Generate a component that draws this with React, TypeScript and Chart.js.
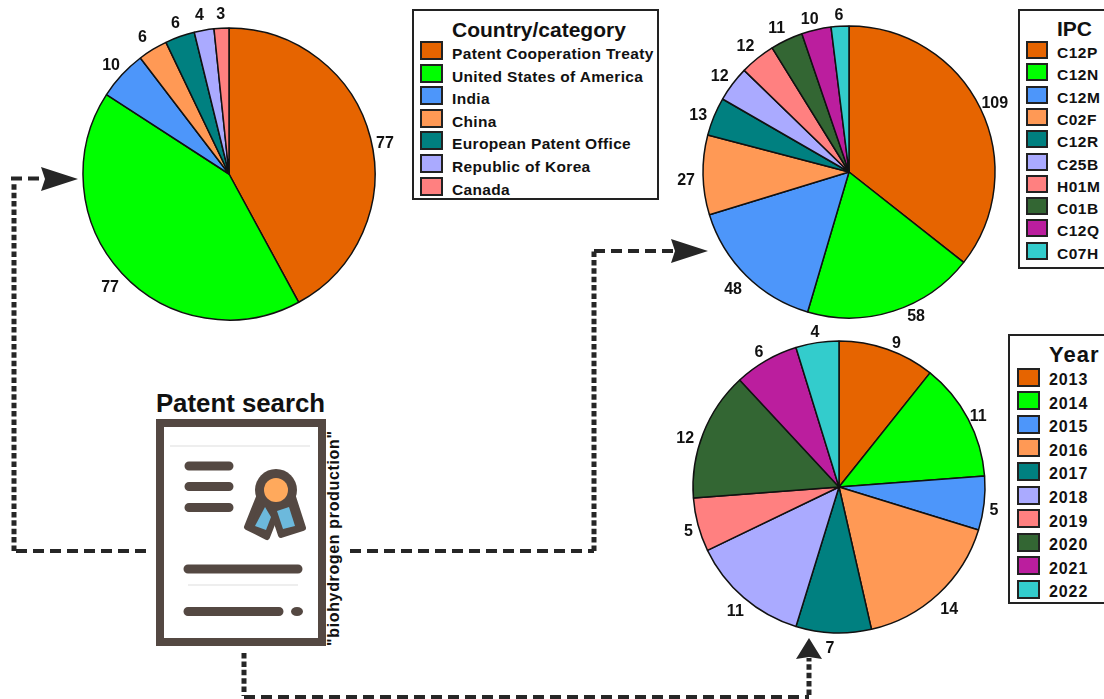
import React, { useEffect, useRef } from "react";
import { Chart, registerables } from "chart.js";

Chart.register(...registerables);

const countryLabels = ["Patent Cooperation Treaty", "United States of America", "India", "China", "European Patent Office", "Republic of Korea", "Canada"];
const countryValues = [77, 77, 10, 6, 6, 4, 3];
const ipcLabels = ["C12P", "C12N", "C12M", "C02F", "C12R", "C25B", "H01M", "C01B", "C12Q", "C07H"];
const ipcValues = [109, 58, 48, 27, 13, 12, 12, 11, 10, 6];
const yearLabels = ["2013", "2014", "2015", "2016", "2017", "2018", "2019", "2020", "2021", "2022"];
const yearValues = [9, 11, 5, 14, 7, 11, 5, 12, 6, 4];
const palette = ["#E66400", "#00FF00", "#4D96FA", "#FF9955", "#008080", "#AAAAFF", "#FF8080", "#336633", "#BB1E9E", "#33CCCC"];

const FONT = '"Liberation Sans", Arial, sans-serif';
const SIZE = 360;

// hand placement of the value labels, relative to their default spot outside each slice
const countryNudge = [[-1, 10], [0, 4], [1, 2], [-2, 2], [1, 2], [-2, 1], [0, 2]];
const ipcNudge = [[0, 2], [18, -10], [-2, 2], [-1, 5], [-1, 5], [0, 2], [-2, 1], [-3, 3], [-3, 5], [0, 5]];
const yearNudge = [[4, 10], [-4, 5], [-6, 5], [0, 4], [-3, 0], [2, 2], [6, 3], [-3, 11], [1, 6], [0, 6]];

const outerLabels = {
  id: "outerLabels",
  afterDatasetsDraw(chart: any, _args: any, opts: any) {
    const ctx = chart.ctx;
    const meta = chart.getDatasetMeta(0);
    const values = chart.data.datasets[0].data;
    ctx.save();
    ctx.font = `bold 16px ${FONT}`;
    ctx.fillStyle = "#111";
    ctx.textAlign = "center";
    ctx.textBaseline = "middle";
    meta.data.forEach((arc: any, i: number) => {
      const mid = (arc.startAngle + arc.endAngle) / 2;
      const r = arc.outerRadius + 16;
      const [dx, dy] = opts.nudge[i];
      ctx.fillText(String(values[i]), arc.x + Math.cos(mid) * r + dx, arc.y + Math.sin(mid) * r + dy);
    });
    ctx.restore();
  },
};

function Pie({ labels, values, nudge, cx, cy, r }: { labels: string[]; values: number[]; nudge: number[][]; cx: number; cy: number; r: number }) {
  const ref = useRef<HTMLCanvasElement>(null);
  useEffect(() => {
    const chart = new Chart(ref.current!, {
      type: "pie",
      data: {
        labels,
        datasets: [{ data: values, backgroundColor: palette.slice(0, values.length), borderColor: "#111", borderWidth: 1.5 }],
      },
      options: {
        animation: false,
        responsive: false,
        layout: { padding: SIZE / 2 - r - 0.75 },
        plugins: { legend: { display: false }, tooltip: { enabled: false }, outerLabels: { nudge } },
      },
      plugins: [outerLabels],
    } as any);
    return () => chart.destroy();
  }, []);
  return (
    <canvas
      ref={ref}
      width={SIZE}
      height={SIZE}
      style={{ position: "absolute", left: cx - SIZE / 2, top: cy - SIZE / 2, width: SIZE, height: SIZE, display: "block" }}
    />
  );
}

function Legend({ title, labels, x, y, w, h, swatchX, textX, swatchY, textY, step, swatchW, swatchH, titleY, titleSize, titleSpacing, fontSize, spacing }: any) {
  return (
    <div style={{ position: "absolute", left: x, top: y, width: w, height: h, border: "2px solid #222", background: "#fff", boxSizing: "border-box", fontFamily: FONT, fontWeight: "bold", color: "#111" }}>
      <div style={{ position: "absolute", left: textX - x - 2, top: titleY - y - 2 - 12, lineHeight: "24px", fontSize: titleSize, letterSpacing: titleSpacing, whiteSpace: "nowrap" }}>{title}</div>
      {labels.map((l: string, i: number) => (
        <React.Fragment key={l}>
          <div style={{ position: "absolute", left: swatchX - x - 2, top: swatchY + i * step - swatchH / 2 - y - 2, width: swatchW, height: swatchH, background: palette[i], border: "2px solid #222", boxSizing: "border-box" }} />
          <div style={{ position: "absolute", left: textX - x - 2, top: textY + i * step - 10 - y - 2, lineHeight: "20px", fontSize, letterSpacing: spacing, whiteSpace: "nowrap" }}>{l}</div>
        </React.Fragment>
      ))}
    </div>
  );
}

const INK = "#262626";
const BROWN = "#544842";

function Overlay() {
  const h = { stroke: INK, strokeWidth: 4, strokeDasharray: "11 6", fill: "none" };
  const v = { stroke: INK, strokeWidth: 5, strokeDasharray: "5.5 2.9", fill: "none" };
  return (
    <svg width={1104} height={699} style={{ position: "absolute", left: 0, top: 0 }}>
      {/* left route */}
      <path d="M146 551H16" {...h} />
      <path d="M14 551V183" {...v} />
      <path d="M11 178.5H41" {...h} />
      <path d="M78 179L41 167L45 179L41 191Z" fill={INK} />
      {/* right route */}
      <path d="M350 551H594" {...h} />
      <path d="M594 551V251" {...v} />
      <path d="M594 251H674" {...h} />
      <path d="M708 251L671 239L675 251L671 263Z" fill={INK} />
      {/* bottom route */}
      <path d="M244 653V696" {...v} />
      <path d="M244 697H809" {...h} />
      <path d="M809 695V658" {...v} />
      <path d="M809 638L796 659L809 657L822 659Z" fill={INK} />
      {/* document */}
      <rect x={160} y={423} width={162} height={219} fill="#fff" stroke={BROWN} strokeWidth={8} />
      <path d="M170 446H310M188 585H298" stroke="#ddd" strokeWidth={1} />
      <g stroke={BROWN} strokeWidth={9} strokeLinecap="round">
        <path d="M189 466H229M189 486.5H229M189 507.5H229" />
        <path d="M188 569H298M188 611.5H279" />
      </g>
      <ellipse cx={297} cy={611.5} rx={6} ry={4.5} fill={BROWN} />
      <g fill={BROWN} stroke={BROWN} strokeWidth={6} strokeLinejoin="round">
        <path d="M259 497L247 527L267 537L276 514Z" />
        <path d="M293 497L303 528L281 535L274 514Z" />
      </g>
      <circle cx={276} cy={490} r={21} fill={BROWN} />
      <circle cx={276} cy={490} r={12} fill="#FFA95C" />
      <path d="M265 507L255 526L266 530L271 517Z" fill="#6CB9DC" />
      <path d="M277 511L289 507L295 526L283 529Z" fill="#6CB9DC" />
      <text x={240.5} y={412} textAnchor="middle" fontFamily={FONT} fontWeight="bold" fontSize={25.8} fill="#111">Patent search</text>
      <text transform="translate(339 646) rotate(-90)" fontFamily={FONT} fontWeight="bold" fontSize={16} letterSpacing={0.65} fill="#111">"biohydrogen production"</text>
    </svg>
  );
}

export default function App() {
  useEffect(() => {
    document.body.style.margin = "0";
    document.body.style.background = "#fff";
  }, []);
  return (
    <div style={{ position: "relative", width: 1104, height: 699, overflow: "hidden", background: "#fff" }}>
      <Overlay />
      <Pie labels={countryLabels} values={countryValues} nudge={countryNudge} cx={228.5} cy={173.5} r={146} />
      <Pie labels={ipcLabels} values={ipcValues} nudge={ipcNudge} cx={848.5} cy={172} r={146} />
      <Pie labels={yearLabels} values={yearValues} nudge={yearNudge} cx={839} cy={487} r={146} />
      <Legend title="Country/category" labels={countryLabels} x={412} y={9} w={247} h={191} swatchX={420} textX={452} swatchY={50.5} textY={54} step={22.6} swatchW={23} swatchH={19} titleY={30} titleSize={21} titleSpacing="0" fontSize={15.5} spacing="0.35px" />
      <Legend title="IPC" labels={ipcLabels} x={1018} y={9} w={100} h={260} swatchX={1026} textX={1057} swatchY={50} textY={53} step={22.3} swatchW={22} swatchH={18} titleY={29} titleSize={21} titleSpacing="0" fontSize={15.5} spacing="0.5px" />
      <Legend title="Year" labels={yearLabels} x={1008} y={334} w={110} h={270} swatchX={1017} textX={1049} swatchY={377} textY={380} step={23.6} swatchW={23} swatchH={19} titleY={355} titleSize={22} titleSpacing="1px" fontSize={16} spacing="0.9px" />
    </div>
  );
}
